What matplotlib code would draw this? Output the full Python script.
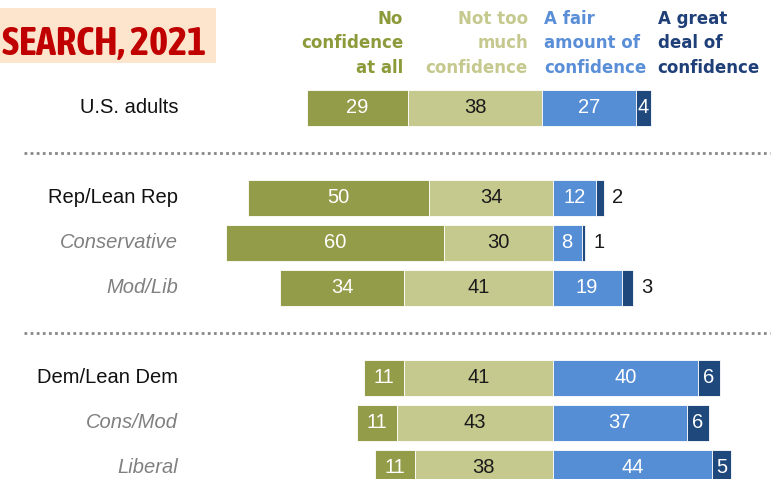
import matplotlib
matplotlib.use("Agg")
import matplotlib.pyplot as plt
from matplotlib import font_manager as fm
from matplotlib.patches import Rectangle

# ---------------- data ----------------
groups = ["U.S. adults", "Rep/Lean Rep", "Conservative", "Mod/Lib",
          "Dem/Lean Dem", "Cons/Mod", "Liberal"]
italic_rows = [False, False, True, True, False, True, True]
no_conf = [29, 50, 60, 34, 11, 11, 11]
not_much = [38, 34, 30, 41, 41, 43, 38]
fair = [27, 12, 8, 19, 40, 37, 44]
great = [4, 2, 1, 3, 6, 6, 5]
headers = [["No", "confidence", "at all"],
           ["Not too", "much", "confidence"],
           ["A fair", "amount of", "confidence"],
           ["A great", "deal of", "confidence"]]
title = "SEARCH, 2021"

# ---------------- style ----------------
C_NO = "#939c48"
C_NOTMUCH = "#c5c98e"
C_FAIR = "#558ed5"
C_GREAT = "#1f497d"
H_COLORS = ["#8c9a3a", "#c5c98e", "#5a8fd8", "#1f3f78"]

avail = {f.name for f in fm.fontManager.ttflist}
LABEL_FONT = "Liberation Sans" if "Liberation Sans" in avail else "DejaVu Sans"
HEAD_FONT = "DejaVu Sans"

# look for a condensed / narrow bold face for the title
TITLE_FONT, TITLE_STRETCH = None, "normal"
for f in fm.fontManager.ttflist:
    nm = f.name.lower()
    if ("narrow" in nm or "condensed" in nm) and f.weight in (600, 700, 800, "bold"):
        TITLE_FONT = f.name
        break
if TITLE_FONT is None:
    for f in fm.fontManager.ttflist:
        if f.name == "DejaVu Sans" and f.stretch in ("condensed", 375) \
                and f.weight in (700, "bold"):
            TITLE_FONT, TITLE_STRETCH = "DejaVu Sans", "condensed"
            break
if TITLE_FONT is None:
    TITLE_FONT = LABEL_FONT

W, H = 784, 479
fig = plt.figure(figsize=(W / 100, H / 100), dpi=100)
fig.patch.set_facecolor("white")

def fx(px):
    return px / W

def fy(py):
    return 1 - py / H

row_pos = [0, 2, 3, 4, 6, 7, 8]
y_top = -107.5 / 45
y_bot = (H - 107.5) / 45

# main axes (all rows except U.S. adults)
ax = fig.add_axes([0, 0, 1, 1])
s_main, c_main = 3.63, 552.7
ax.set_xlim(-c_main / s_main, (W - c_main) / s_main)
ax.set_ylim(y_bot, y_top)
ax.axis("off")

# top axes for U.S. adults (slightly different scale in the reference)
ax2 = fig.add_axes([0, 0, 1, 1])
s_top, c_top = 3.51, 541.7
ax2.set_xlim(-c_top / s_top, (W - c_top) / s_top)
ax2.set_ylim(y_bot, y_top)
ax2.axis("off")
ax2.patch.set_alpha(0)

bh = 0.8
fs_val = 14.5
for i, g in enumerate(groups):
    a = ax2 if i == 0 else ax
    y = row_pos[i]
    nm, nc, fa, gr = not_much[i], no_conf[i], fair[i], great[i]
    segs = [(-(nm + nc), nc, C_NO, "white"),
            (-nm, nm, C_NOTMUCH, "#1a1a1a"),
            (0, fa, C_FAIR, "white"),
            (fa, gr, C_GREAT, "white")]
    for k, (left, w, col, tc) in enumerate(segs):
        a.barh(y, w, left=left, height=bh, color=col, edgecolor="white",
               linewidth=0.6)
        val = [nc, nm, fa, gr][k]
        if k == 3 and val <= 3:
            a.text(left + w + 2.3, y, str(val), ha="left", va="center",
                   color="#1a1a1a", fontsize=fs_val, family=LABEL_FONT)
        else:
            a.text(left + w / 2, y, str(val), ha="center", va="center",
                   color=tc, fontsize=fs_val, family=LABEL_FONT)
    # row label
    ax.text((178 - c_main) / s_main, y, g, ha="right", va="center",
            fontsize=14.5, family=LABEL_FONT,
            style="italic" if italic_rows[i] else "normal",
            color="#808080" if italic_rows[i] else "#111111")

# dotted separators
for yl in [1, 5]:
    ax.axhline(yl, xmin=fx(24), xmax=fx(770), color="#888888",
               linestyle=(0, (1, 1.2)), linewidth=2.0)

# headers
h_x = [403, 528, 544, 657.5]
h_ha = ["right", "right", "left", "left"]
baselines = [23.8, 48.2, 72.6]
for j, lines in enumerate(headers):
    for ln, txt in enumerate(lines):
        fig.text(fx(h_x[j]), fy(baselines[ln]), txt, ha=h_ha[j],
                 va="baseline", color=H_COLORS[j], fontsize=12.0,
                 fontweight="bold", family=HEAD_FONT)

# title box
fig.patches.append(Rectangle((0, fy(63)), fx(216), fy(8) - fy(63),
                             transform=fig.transFigure, facecolor="#fde4cc",
                             edgecolor="none", zorder=0))
t = fig.text(fx(2), fy(55), title, ha="left", va="baseline", color="#c00000",
             fontsize=29, fontweight="bold", family=TITLE_FONT,
             fontstretch=TITLE_STRETCH)
# fit title width to the box (~210 px)
r = fig.canvas.get_renderer()
wpx = t.get_window_extent(renderer=r).width
t.set_fontsize(min(29, 29 * 210 / wpx))

fig.savefig("out.png", dpi=100)
